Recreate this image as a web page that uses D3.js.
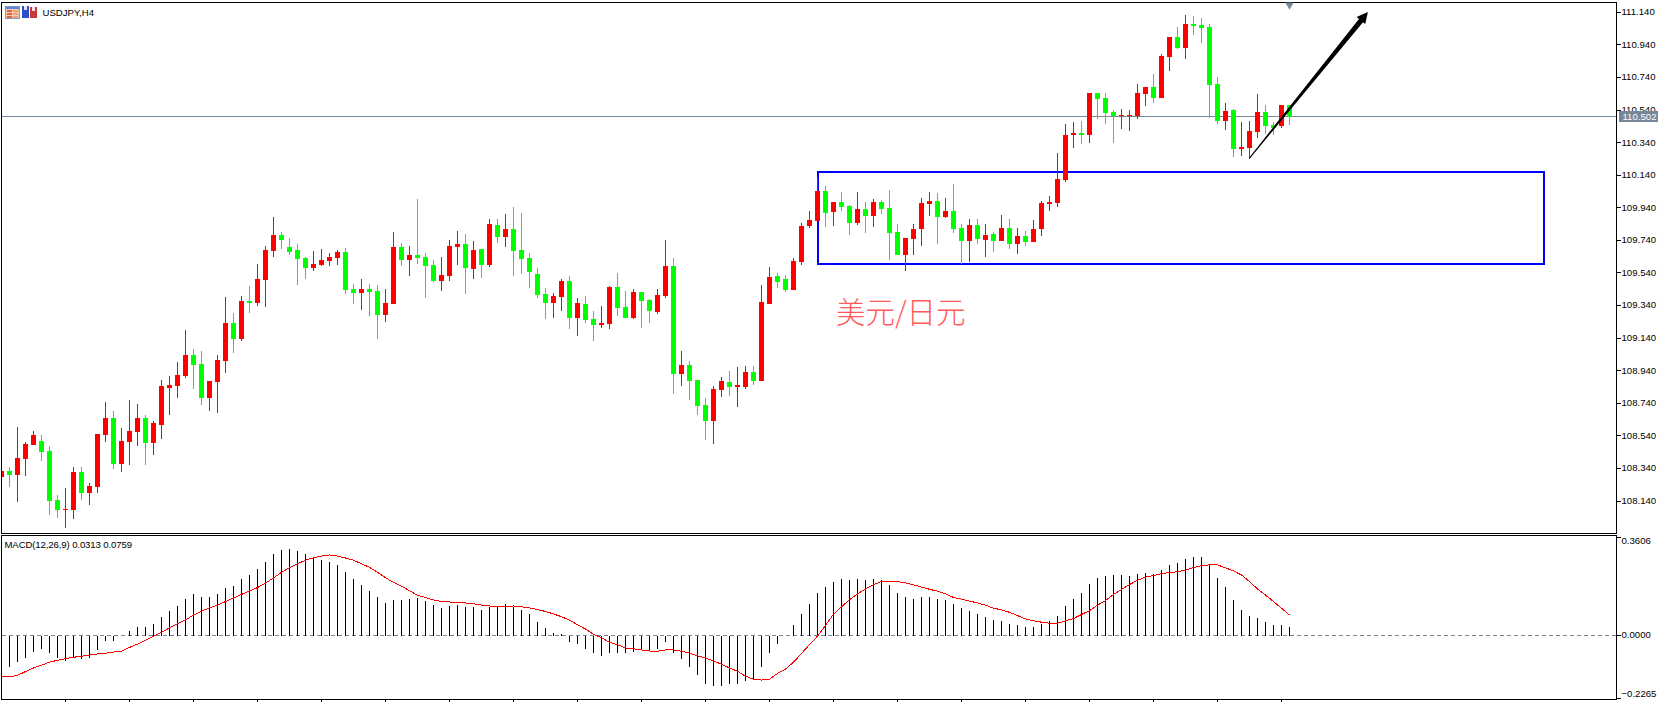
<!DOCTYPE html>
<html><head><meta charset="utf-8">
<script src="https://cdnjs.cloudflare.com/ajax/libs/d3/7.8.5/d3.min.js"></script>
<style>html,body{margin:0;padding:0;background:#fff;overflow:hidden}svg{display:block}text{font-family:"Liberation Sans",sans-serif}</style>
</head><body><svg id="c" width="1671" height="702"></svg>
<script>
const symbolLabel = "USDJPY,H4";
const macdLabel = "MACD(12,26,9) 0.0313 0.0759";
const noteLabel = "美元/日元";
const lastPrice = 110.502;
const priceTicks = [111.14,110.94,110.74,110.54,110.34,110.14,109.94,109.74,109.54,109.34,109.14,108.94,108.74,108.54,108.34,108.14];
const macdTicks = [0.3606,0,-0.2265];
const opens = [108.287,108.324,108.300,108.398,108.484,108.509,108.447,108.146,108.085,108.085,108.318,108.189,108.226,108.545,108.650,108.367,108.502,108.564,108.650,108.496,108.607,108.834,108.846,108.908,109.036,108.981,108.772,108.871,109.000,109.233,109.135,109.368,109.356,109.497,109.675,109.773,109.699,109.681,109.632,109.571,109.589,109.614,109.632,109.669,109.442,109.417,109.442,109.429,109.282,109.350,109.699,109.620,109.650,109.638,109.589,109.491,109.521,109.699,109.718,109.564,109.687,109.589,109.834,109.760,109.810,109.681,109.632,109.533,109.410,109.355,109.392,109.491,109.263,109.349,109.257,109.220,109.226,109.454,109.331,109.263,109.423,109.374,109.300,109.399,109.583,108.920,108.975,108.883,108.729,108.631,108.821,108.870,108.840,108.840,108.932,108.877,109.349,109.521,109.502,109.435,109.607,109.828,109.859,110.043,109.914,109.976,109.951,109.847,109.933,109.890,109.976,109.939,109.792,109.650,109.749,109.810,109.963,109.982,109.884,109.921,109.816,109.736,109.835,109.742,109.779,109.736,109.816,109.718,109.767,109.730,109.810,109.963,109.970,110.110,110.387,110.399,110.387,110.645,110.614,110.528,110.504,110.504,110.504,110.639,110.682,110.614,110.866,110.988,110.921,111.068,111.062,111.050,110.700,110.473,110.540,110.301,110.307,110.405,110.528,110.448,110.442,110.571];
const closes = [108.324,108.300,108.404,108.490,108.545,108.441,108.140,108.085,108.091,108.318,108.189,108.232,108.551,108.650,108.367,108.509,108.570,108.650,108.496,108.619,108.846,108.852,108.914,109.036,108.975,108.772,108.877,109.006,109.233,109.135,109.368,109.356,109.503,109.681,109.773,109.742,109.669,109.626,109.571,109.595,109.620,109.638,109.669,109.435,109.417,109.442,109.423,109.282,109.356,109.699,109.620,109.650,109.632,109.583,109.491,109.527,109.705,109.718,109.570,109.681,109.589,109.840,109.760,109.810,109.675,109.626,109.546,109.405,109.355,109.399,109.491,109.263,109.355,109.251,109.220,109.233,109.454,109.325,109.263,109.423,109.368,109.306,109.405,109.583,108.920,108.975,108.877,108.723,108.631,108.827,108.877,108.840,108.852,108.932,108.877,109.362,109.515,109.485,109.435,109.613,109.828,109.865,110.043,109.908,109.976,109.945,109.847,109.933,109.890,109.976,109.933,109.785,109.650,109.755,109.810,109.970,109.982,109.884,109.921,109.810,109.736,109.835,109.749,109.773,109.736,109.816,109.718,109.767,109.730,109.810,109.970,109.976,110.117,110.387,110.399,110.387,110.645,110.608,110.522,110.504,110.510,110.510,110.645,110.682,110.614,110.872,110.988,110.921,111.068,111.056,111.044,110.694,110.473,110.534,110.301,110.313,110.411,110.528,110.442,110.430,110.571,110.497];
const highs = [108.324,108.349,108.594,108.502,108.570,108.545,108.478,108.177,108.220,108.349,108.349,108.251,108.551,108.748,108.693,108.588,108.760,108.736,108.668,108.631,108.883,108.908,108.993,109.190,109.073,109.061,108.877,109.036,109.393,109.294,109.399,109.460,109.595,109.706,109.884,109.792,109.755,109.718,109.638,109.675,109.687,109.663,109.681,109.693,109.472,109.503,109.472,109.466,109.442,109.792,109.724,109.706,109.994,109.663,109.620,109.638,109.742,109.797,109.779,109.736,109.687,109.871,109.871,109.902,109.945,109.908,109.663,109.570,109.448,109.417,109.502,109.521,109.386,109.399,109.306,109.337,109.460,109.540,109.429,109.441,109.423,109.380,109.441,109.742,109.632,109.061,109.000,108.883,108.772,108.846,108.901,108.938,108.962,108.969,108.969,109.466,109.576,109.540,109.527,109.632,109.846,109.920,110.123,110.074,109.976,110.037,109.957,110.037,109.976,109.994,109.988,110.049,109.841,109.755,109.841,110.000,110.037,110.031,110.000,110.086,109.841,109.871,109.871,109.841,109.792,109.896,109.871,109.816,109.798,109.865,109.982,110.013,110.276,110.454,110.466,110.473,110.645,110.645,110.645,110.540,110.546,110.540,110.700,110.682,110.761,110.884,110.988,111.050,111.123,111.117,111.105,111.068,110.743,110.583,110.546,110.466,110.473,110.639,110.571,110.466,110.571,110.571];
const lows = [108.287,108.226,108.134,108.294,108.484,108.386,108.054,108.036,107.974,108.030,108.146,108.116,108.189,108.502,108.337,108.318,108.361,108.478,108.361,108.423,108.521,108.668,108.772,108.895,108.828,108.730,108.693,108.680,108.926,109.049,109.122,109.294,109.337,109.331,109.638,109.687,109.650,109.466,109.503,109.552,109.583,109.583,109.589,109.411,109.350,109.313,109.276,109.135,109.239,109.350,109.583,109.521,109.595,109.386,109.485,109.429,109.491,109.589,109.410,109.502,109.509,109.576,109.724,109.699,109.521,109.533,109.448,109.386,109.257,109.263,109.306,109.196,109.153,109.233,109.122,109.202,109.196,109.276,109.263,109.257,109.202,109.233,109.288,109.386,108.797,108.846,108.760,108.668,108.514,108.490,108.778,108.784,108.717,108.827,108.852,108.877,109.349,109.448,109.423,109.435,109.589,109.816,109.859,109.822,109.828,109.921,109.773,109.835,109.785,109.822,109.902,109.620,109.650,109.552,109.650,109.706,109.890,109.718,109.878,109.785,109.595,109.607,109.718,109.638,109.669,109.736,109.687,109.657,109.706,109.730,109.767,109.921,109.945,110.098,110.307,110.331,110.338,110.485,110.454,110.338,110.424,110.411,110.485,110.565,110.583,110.614,110.780,110.915,110.853,111.001,110.952,110.491,110.454,110.417,110.252,110.258,110.240,110.368,110.393,110.387,110.430,110.448];
const macdHist = [-0.074,-0.115,-0.097,-0.079,-0.057,-0.046,-0.061,-0.079,-0.090,-0.079,-0.083,-0.079,-0.050,-0.017,-0.017,0,0.016,0.034,0.034,0.045,0.070,0.092,0.110,0.136,0.151,0.143,0.143,0.151,0.176,0.183,0.209,0.223,0.245,0.271,0.300,0.314,0.318,0.311,0.300,0.289,0.278,0.271,0.260,0.234,0.209,0.187,0.165,0.140,0.121,0.132,0.132,0.136,0.137,0.129,0.114,0.103,0.110,0.114,0.107,0.107,0.096,0.107,0.110,0.118,0.107,0.096,0.078,0.052,0.030,0.012,0.008,-0.021,-0.028,-0.046,-0.061,-0.072,-0.061,-0.061,-0.064,-0.057,-0.053,-0.053,-0.046,-0.024,-0.061,-0.086,-0.112,-0.144,-0.174,-0.181,-0.181,-0.177,-0.177,-0.166,-0.159,-0.115,-0.064,-0.028,0,0.038,0.081,0.118,0.158,0.180,0.198,0.209,0.205,0.209,0.205,0.209,0.202,0.187,0.158,0.143,0.136,0.140,0.143,0.136,0.132,0.118,0.103,0.092,0.081,0.070,0.059,0.056,0.045,0.041,0.034,0.034,0.045,0.056,0.074,0.110,0.136,0.158,0.191,0.212,0.220,0.223,0.223,0.220,0.227,0.231,0.227,0.242,0.260,0.267,0.282,0.289,0.289,0.260,0.212,0.180,0.132,0.096,0.074,0.067,0.052,0.038,0.038,0.0313];
const macdSignal = [-0.146,-0.149,-0.144,-0.130,-0.117,-0.107,-0.096,-0.089,-0.083,-0.078,-0.074,-0.070,-0.066,-0.063,-0.059,-0.056,-0.042,-0.030,-0.016,-0.001,0.013,0.029,0.044,0.058,0.076,0.090,0.102,0.112,0.125,0.138,0.151,0.164,0.176,0.193,0.211,0.232,0.249,0.263,0.276,0.285,0.291,0.295,0.291,0.284,0.276,0.263,0.250,0.232,0.212,0.195,0.181,0.165,0.148,0.140,0.131,0.125,0.124,0.120,0.120,0.117,0.112,0.109,0.106,0.106,0.109,0.106,0.102,0.096,0.089,0.080,0.070,0.057,0.041,0.025,0.006,-0.007,-0.023,-0.032,-0.044,-0.047,-0.051,-0.055,-0.056,-0.051,-0.051,-0.056,-0.063,-0.073,-0.080,-0.092,-0.103,-0.117,-0.129,-0.147,-0.158,-0.161,-0.158,-0.137,-0.121,-0.096,-0.064,-0.032,-0.001,0.038,0.079,0.106,0.132,0.153,0.171,0.187,0.198,0.200,0.198,0.193,0.186,0.178,0.170,0.163,0.154,0.140,0.134,0.127,0.120,0.112,0.101,0.095,0.086,0.074,0.062,0.055,0.050,0.046,0.046,0.055,0.063,0.078,0.092,0.112,0.129,0.151,0.169,0.187,0.203,0.214,0.220,0.227,0.231,0.234,0.240,0.249,0.256,0.259,0.259,0.248,0.237,0.222,0.198,0.171,0.149,0.125,0.101,0.0759];
const zoneBox = {from:102, to:192.8, top:110.16, bottom:109.595};
const arrowLine = {from:[156,110.245], to:[170.8,111.142]};
const timeTicks = d3.range(8,162,8);

const svg = d3.select("#c");
const W=1617, X0=1.5, mainTop=2.5, mainBot=533.5, subTop=535.5, subBot=699.5;
const x = d3.scaleLinear().domain([0,161]).range([1.5,1289.5]);
const yP = d3.scaleLinear().domain([108.14,111.14]).range([501,12.3]);
const yM = d3.scaleLinear().domain([-0.2265,0.3606]).range([698,537]);
const RED="#ff0000", GREEN="#00ff00", SLATE="#778899";
const defs = svg.append("defs");
defs.append("clipPath").attr("id","mc").append("rect").attr("x",2).attr("y",3).attr("width",W-2.5).attr("height",mainBot-3);
defs.append("clipPath").attr("id","sc").append("rect").attr("x",2).attr("y",536).attr("width",W-2.5).attr("height",163);

/* main pane */
const main = svg.append("g").attr("clip-path","url(#mc)");
const idx = d3.range(opens.length);
const col = i => closes[i]>=opens[i] ? RED : GREEN;
main.append("line").attr("x1",2).attr("x2",W).attr("y1",Math.floor(yP(lastPrice))+.5).attr("y2",Math.floor(yP(lastPrice))+.5).attr("stroke",SLATE);

/* zone sits behind the candles */
main.append("rect").attr("x",x(zoneBox.from)).attr("width",x(zoneBox.to)-x(zoneBox.from))
  .attr("y",yP(zoneBox.top)).attr("height",yP(zoneBox.bottom)-yP(zoneBox.top))
  .attr("fill","none").attr("stroke","#0000ff").attr("stroke-width",2).attr("shape-rendering","crispEdges");

main.append("g").attr("shape-rendering","crispEdges").selectAll("rect.w").data(idx).join("rect").attr("class","w")
  .attr("x",i=>Math.floor(x(i))).attr("width",1)
  .attr("y",i=>Math.round(yP(highs[i]))).attr("height",i=>Math.max(1,Math.round(yP(lows[i]))-Math.round(yP(highs[i]))))
  .attr("fill",col);
main.append("g").attr("shape-rendering","crispEdges").selectAll("rect.b").data(idx).join("rect").attr("class","b")
  .attr("x",i=>Math.floor(x(i))-2).attr("width",5)
  .attr("y",i=>Math.round(yP(Math.max(opens[i],closes[i]))))
  .attr("height",i=>Math.max(1,Math.round(yP(Math.min(opens[i],closes[i])))-Math.round(yP(Math.max(opens[i],closes[i])))))
  .attr("fill",col);

/* tapered arrow */
const [ax,ay]=[x(arrowLine.from[0]),yP(arrowLine.from[1])], [bx,by]=[x(arrowLine.to[0]),yP(arrowLine.to[1])];
const L=Math.hypot(bx-ax,by-ay), ux=(bx-ax)/L, uy=(by-ay)/L, nx=-uy, ny=ux;
const headLen=11, headW=5.5, tail=.5, neck=2.6;
const hx=bx-ux*headLen, hy=by-uy*headLen;
const arrowPts=[[ax+nx*tail,ay+ny*tail],[hx+nx*neck,hy+ny*neck],[hx+nx*headW,hy+ny*headW],[bx,by],[hx-nx*headW,hy-ny*headW],[hx-nx*neck,hy-ny*neck],[ax-nx*tail,ay-ny*tail]];
main.append("path").attr("d",d3.line()(arrowPts)+"Z").attr("fill","#000");

/* note text */
main.append("text").attr("x",836).attr("y",323).attr("fill","#ff5a5a").attr("font-size",29.5)
  .style("font-family","'Noto Sans CJK SC'").style("font-weight",300).text(noteLabel);

/* sub pane */
const sub = svg.append("g").attr("clip-path","url(#sc)");
sub.append("line").attr("x1",2).attr("x2",W).attr("y1",Math.floor(yM(0))+.5).attr("y2",Math.floor(yM(0))+.5)
  .attr("stroke",SLATE).attr("stroke-dasharray","4,3").attr("shape-rendering","crispEdges");
sub.append("g").attr("shape-rendering","crispEdges").selectAll("rect").data(idx).join("rect")
  .attr("x",i=>Math.floor(x(i))).attr("width",1)
  .attr("y",i=>Math.min(yM(0),yM(macdHist[i]))).attr("height",i=>Math.abs(yM(macdHist[i])-yM(0)))
  .attr("fill","#000");
sub.append("path").datum(idx).attr("fill","none").attr("stroke",RED).attr("stroke-width",1).attr("shape-rendering","crispEdges")
  .attr("d",d3.line().x(i=>x(i)).y(i=>yM(macdSignal[i])));

/* frames */
const frames = svg.append("g").attr("fill","none").attr("stroke","#000").attr("shape-rendering","crispEdges");
frames.append("rect").attr("x",X0).attr("y",mainTop).attr("width",1615).attr("height",mainBot-mainTop);
frames.append("rect").attr("x",X0).attr("y",subTop).attr("width",1615).attr("height",subBot-subTop);

/* axes */
const gP = svg.append("g").attr("transform","translate(1616.5,0)")
  .call(d3.axisRight(yP).tickValues(priceTicks).tickFormat(d3.format(".3f")).tickSize(4).tickPadding(1).offset(0));
const gM = svg.append("g").attr("transform","translate(1616.5,0)")
  .call(d3.axisRight(yM).tickValues(macdTicks).tickFormat(d3.format(".4f")).tickSize(4).tickPadding(1).offset(0));
gM.selectAll(".tick text").attr("dy",d=>d>0.1?"0.7em":d<-0.1?"-0.1em":"0.2em");
const gT = svg.append("g").attr("transform","translate(0,699.5)")
  .call(d3.axisBottom(x).tickValues(timeTicks).tickFormat("").tickSize(3).offset(0));
[gP,gM,gT].forEach(g=>{g.select(".domain").remove();g.selectAll("line").attr("stroke","#000").attr("shape-rendering","crispEdges");
  g.selectAll("text").attr("fill","#000").style("font-size","9.6px").style("font-family","'Liberation Sans'");});
gP.selectAll(".tick text").attr("dy","0.3em");

/* current price tag */
const tagY=yP(lastPrice);
svg.append("rect").attr("x",1619).attr("y",Math.round(tagY)-5).attr("width",39).attr("height",11).attr("fill",SLATE);
svg.append("text").attr("x",1622.5).attr("y",Math.round(tagY)+4).attr("fill","#fff").attr("font-size",9.6).text(d3.format(".3f")(lastPrice));

/* top marker */
svg.append("path").attr("d",d3.symbol(d3.symbolTriangle,30)()).attr("transform",`translate(${x(161)},5) rotate(180)`).attr("fill",SLATE);

/* labels */
svg.append("text").attr("x",42.5).attr("y",16).attr("font-size",9.6).attr("fill","#000").text(symbolLabel);
svg.append("text").attr("x",4.5).attr("y",547.5).attr("font-size",9.6).attr("letter-spacing",-0.12).attr("fill","#000").text(macdLabel);

/* title icons */
const ic = svg.append("g").attr("shape-rendering","crispEdges");
ic.append("rect").attr("x",5.5).attr("y",6.5).attr("width",14).attr("height",12).attr("fill","#f6c9a8").attr("stroke","#7f9db9");
ic.append("rect").attr("x",6).attr("y",7).attr("width",13).attr("height",2).attr("fill","#5b8bd6");
[10,13,16].forEach(v=>ic.append("rect").attr("x",7).attr("y",v).attr("width",5).attr("height",2).attr("fill","#e06040"));
[10,13,16].forEach(v=>ic.append("rect").attr("x",13).attr("y",v).attr("width",5).attr("height",2).attr("fill","#e8a080"));
ic.append("rect").attr("x",22).attr("y",6).attr("width",7).attr("height",12).attr("fill","#2a50c8");
ic.append("rect").attr("x",24).attr("y",6).attr("width",3).attr("height",4).attr("fill","#dfe8f8");
ic.append("rect").attr("x",30).attr("y",7).attr("width",7).attr("height",11).attr("fill","#c83a3a");
ic.append("rect").attr("x",32).attr("y",7).attr("width",3).attr("height",4).attr("fill","#f6e0e0");
</script></body></html>
